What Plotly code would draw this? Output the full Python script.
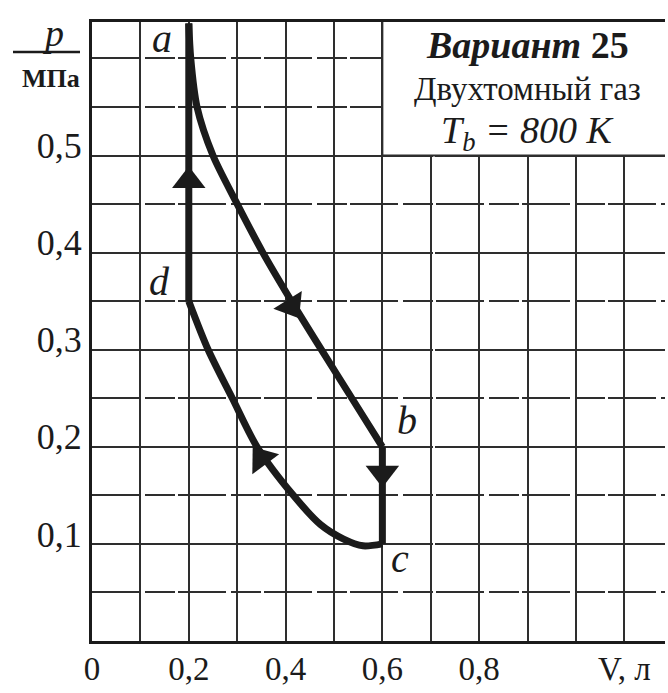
import math
import plotly.graph_objects as go

# Cycle vertices (V in litres, p in MPa)
vertex_names = ["a", "b", "c", "d"]
vertex_V = [0.2, 0.6, 0.6, 0.2]
vertex_p = [0.636, 0.2, 0.1, 0.35]

# Intermediate points of the curved strokes
curve_ab_V = [0.204, 0.217, 0.25, 0.298, 0.353, 0.412, 0.474, 0.537]
curve_ab_p = [0.60, 0.55, 0.50, 0.452, 0.40, 0.35, 0.30, 0.25]
curve_cd_V = [0.56, 0.52, 0.472, 0.416, 0.341, 0.29, 0.24]
curve_cd_p = [0.098, 0.105, 0.12, 0.15, 0.20, 0.25, 0.30]

# Direction arrows: position on the cycle and the stroke they sit on
arrow_V = [0.2, 0.412, 0.6, 0.35]
arrow_p = [0.474, 0.345, 0.173, 0.188]
arrow_seg = ["da", "ab", "bc", "cd"]

# Axis ticks
x_tickvals = [0, 0.2, 0.4, 0.6, 0.8, 1.1]
x_ticktext = ["0", "0,2", "0,4", "0,6", "0,8", "V, л"]
y_tickvals = [0.1, 0.2, 0.3, 0.4, 0.5]
y_ticktext = ["0,1", "0,2", "0,3", "0,4", "0,5"]

X_MAX, Y_MAX = 1.184, 0.6375
W, H = 668, 693
M = dict(l=92, r=3, t=22, b=52)
SX = (W - M["l"] - M["r"]) / X_MAX
SY = (H - M["t"] - M["b"]) / Y_MAX

va = dict(zip(vertex_names, zip(vertex_V, vertex_p)))

segments = {
    "da": ([va["d"][0], va["a"][0]], [va["d"][1], va["a"][1]], "linear"),
    "ab": ([va["a"][0]] + curve_ab_V + [va["b"][0]],
           [va["a"][1]] + curve_ab_p + [va["b"][1]], "spline"),
    "bc": ([va["b"][0], va["c"][0]], [va["b"][1], va["c"][1]], "linear"),
    "cd": ([va["c"][0]] + curve_cd_V + [va["d"][0]],
           [va["c"][1]] + curve_cd_p + [va["d"][1]], "spline"),
}

INK = "#1b1b1b"
GRID = "#2e2e2e"
SERIF = "Liberation Serif"

fig = go.Figure()
for key, (xs, ys, shape) in segments.items():
    fig.add_trace(go.Scatter(
        x=xs, y=ys, mode="lines",
        line=dict(color=INK, width=7, shape=shape, smoothing=0.8),
        cliponaxis=False, hoverinfo="skip", showlegend=False,
    ))


def heading(seg, x0, y0):
    """Screen-space heading (degrees clockwise from up) of a stroke near a point."""
    xs, ys, _ = segments[seg]
    best = None
    for i in range(len(xs) - 1):
        mx, my = (xs[i] + xs[i + 1]) / 2, (ys[i] + ys[i + 1]) / 2
        d = ((mx - x0) * SX) ** 2 + ((my - y0) * SY) ** 2
        if best is None or d < best[0]:
            best = (d, i)
    i = best[1]
    dx = (xs[i + 1] - xs[i]) * SX
    dy = (ys[i + 1] - ys[i]) * SY
    return math.degrees(math.atan2(dx, dy))


angles = [heading(s, x, y) for s, x, y in zip(arrow_seg, arrow_V, arrow_p)]
fig.add_trace(go.Scatter(
    x=arrow_V, y=arrow_p, mode="markers",
    marker=dict(symbol="triangle-up", size=29, color=INK, angle=angles,
                line=dict(width=0)),
    hoverinfo="skip", showlegend=False,
))

# White panel holding the caption, framed by the 0,6 and 0,5 grid lines
fig.add_shape(type="rect", xref="x", yref="y", x0=0.6, x1=1.4, y0=0.5, y1=0.8,
              fillcolor="white", line=dict(color=GRID, width=2), layer="between")

caption = [
    ("<b><i>Вариант</i> 25</b>", 0.614, 38),
    ("Двухтомный газ", 0.569, 33),
    ("<i>T<sub>b</sub> = 800 K</i>", 0.523, 38),
]
for text, y, size in caption:
    fig.add_annotation(x=0.899, y=y, xref="x", yref="y", text=text,
                       xanchor="center", yanchor="middle",
                       showarrow=False, font=dict(family=SERIF, size=size, color=INK))

# Vertex labels
label_shift = {"a": (-27, -15), "b": (25, 26), "c": (18, -15), "d": (-29, 20)}
for name, (x, y) in va.items():
    sx, sy = label_shift[name]
    fig.add_annotation(x=x, y=y, xref="x", yref="y", text=f"<i>{name}</i>",
                       xanchor="center", yanchor="middle",
                       showarrow=False, xshift=sx, yshift=sy,
                       font=dict(family=SERIF, size=40, color=INK))

# Pressure unit written as a fraction p / МПа
pw, ph = W - M["l"] - M["r"], H - M["t"] - M["b"]
px = lambda v: (v - M["l"]) / pw
py = lambda v: (H - M["b"] - v) / ph
fig.add_annotation(x=px(53), y=py(33), xref="paper", yref="paper", text="<i>p</i>",
                   xanchor="center", yanchor="middle",
                   showarrow=False, font=dict(family=SERIF, size=38, color=INK))
fig.add_shape(type="line", xref="paper", yref="paper", x0=px(13), x1=px(80),
              y0=py(52), y1=py(52), line=dict(color=INK, width=2.5))
fig.add_annotation(x=px(51), y=py(79), xref="paper", yref="paper", text="<b>МПа</b>",
                   xanchor="center", yanchor="middle",
                   showarrow=False, font=dict(family=SERIF, size=26, color=INK))

fig.update_layout(
    width=W, height=H, margin=dict(M, autoexpand=False),
    paper_bgcolor="white", plot_bgcolor="white",
    font=dict(family=SERIF, color=INK),
    xaxis=dict(
        range=[0, X_MAX], tickvals=x_tickvals, ticktext=x_ticktext,
        tickfont=dict(family=SERIF, size=33, color=INK),
        showgrid=True, gridcolor=GRID, gridwidth=1.6,
        minor=dict(tick0=0, dtick=0.1, showgrid=True, gridcolor=GRID, gridwidth=1.6),
        zeroline=False, showline=True, mirror=True, linecolor=INK, linewidth=2.5,
        ticks="", ticklabelstandoff=-3, automargin=False, fixedrange=True,
    ),
    yaxis=dict(
        range=[0, Y_MAX], tickvals=y_tickvals, ticktext=y_ticktext,
        tickfont=dict(family=SERIF, size=36, color=INK),
        showgrid=True, gridcolor=GRID, gridwidth=1.6,
        griddash="60px,4px,26px,3px",
        minor=dict(tick0=0, dtick=0.05, showgrid=True, gridcolor=GRID, gridwidth=1.6,
                   griddash="48px,5px,30px,3px"),
        zeroline=False, showline=True, mirror=False, linecolor=INK, linewidth=3,
        ticks="", ticklabelshift=-10, ticklabelstandoff=0, automargin=False,
        fixedrange=True,
    ),
)

fig.write_html("out.html")
